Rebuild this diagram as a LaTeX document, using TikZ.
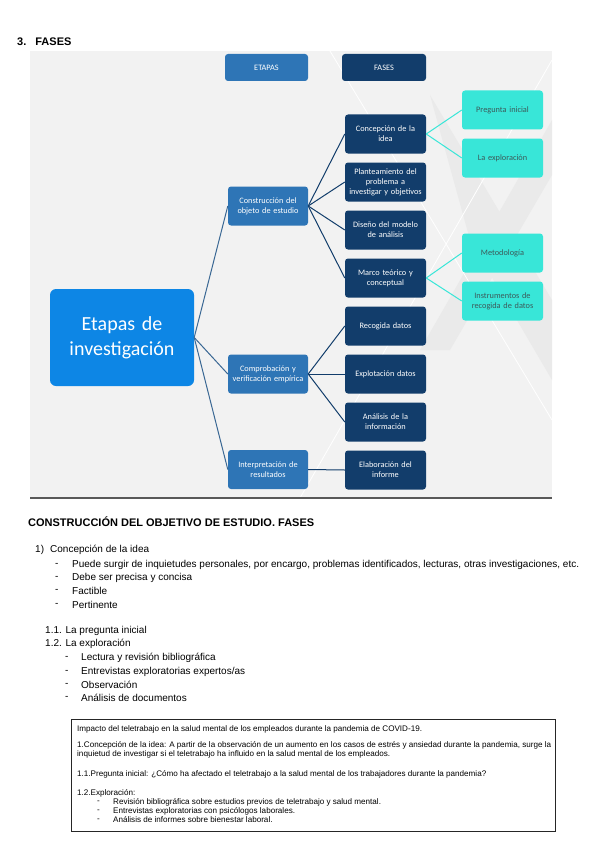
\documentclass[tikz,border=0pt]{standalone}
\usepackage{fontspec}
\setmainfont{Liberation Sans}
\newfontfamily\boxfont{Carlito}
\definecolor{panelcol}{HTML}{F2F2F2}
\definecolor{bandacol}{HTML}{EAEAEA}
\definecolor{etapacol}{HTML}{2E75B6}
\definecolor{fasecol}{HTML}{123D6B}
\definecolor{centralcol}{HTML}{0D86E5}
\definecolor{pistacol}{HTML}{38E6D8}
\definecolor{pistatxt}{HTML}{3C5A5A}
\definecolor{troncocol}{HTML}{3A6894}
\begin{document}
\begin{tikzpicture}[
    x=1pt, y=-1pt,
    node distance=48pt,
    caja/.style={rectangle, rounded corners=3pt, minimum width=81pt, minimum height=39pt, text width=78pt, align=center, inner sep=1pt, text=white, font=\boxfont\fontsize{8.3}{10}\selectfont},
    fase/.style={caja, fill=fasecol},
    etapa/.style={caja, fill=etapacol, minimum width=80pt},
    pista/.style={caja, fill=pistacol, text=pistatxt},
    cabecera/.style={caja, minimum height=27pt},
    tronco/.style={draw=troncocol, line width=1pt},
    rama/.style={draw=fasecol, line width=1pt},
    hoja/.style={draw=pistacol, line width=1pt},
    txt/.style={anchor=west, inner sep=0pt, font=\fontsize{10}{11}\selectfont},
    negrita/.style={txt, font=\bfseries\fontsize{11}{12}\selectfont},
    chico/.style={anchor=west, inner sep=0pt, font=\fontsize{8.1}{9}\selectfont}
]
\useasboundingbox (0,0) rectangle (600,848);
\fill[white] (0,0) rectangle (600,848);

% titulo
\node[negrita] (titulo) at (17,42) {3.\hspace{9pt}FASES};

% fondo del esquema
\fill[panelcol] (30,51) rectangle (552,498);
\fill[bandacol] (430,95) -- (552,300) -- (552,380) -- (470,240) -- cycle;
\fill[bandacol] (552,120) -- (552,175) -- (450,350) -- (420,350) -- cycle;
\draw[white, line width=0.8pt] (330,51) -- (552,420);
\draw[white, line width=0.8pt] (552,60) -- (300,498);
\draw[gray!70!black, line width=1.6pt] (30,498) -- (552,498);

% cabeceras
\node[cabecera, fill=etapacol, minimum width=83pt] (etapas) at (266.5,67.5) {ETAPAS};
\node[cabecera, fill=fasecol, minimum width=84pt] (fases) at (384,67.5) {FASES};

% nodo central
\node[caja, fill=centralcol, minimum width=144pt, minimum height=97pt, text width=140pt, rounded corners=6pt, font=\boxfont\fontsize{20}{25}\selectfont] (central) at (122,337.5) {Etapas de\\investigación};

% etapas
\node[etapa] (construccion) at (268,206) {Construcción del\\objeto de estudio};
\node[etapa] (comprobacion) at (268,374) {Comprobación y\\verificación empírica};
\node[etapa] (interpretacion) at (268,469.5) {Interpretación de\\resultados};

% fases
\node[fase] (concepcion) at (385.5,134) {Concepción de la\\idea};
\node[fase, below of=concepcion] (planteamiento) {Planteamiento del\\problema a\\investigar y objetivos};
\node[fase, below of=planteamiento] (diseno) {Diseño del modelo\\de análisis};
\node[fase, below of=diseno] (marco) {Marco teórico y\\conceptual};
\node[fase, below of=marco] (recogida) {Recogida datos};
\node[fase, below of=recogida] (explotacion) {Explotación datos};
\node[fase, below of=explotacion] (analisis) {Análisis de la\\información};
\node[fase, below of=analisis] (elaboracion) {Elaboración del\\informe};

% pasos
\node[pista] (pregunta) at (502.5,110) {Pregunta inicial};
\node[pista, below of=pregunta] (exploracion) {La exploración};
\node[pista] (metodologia) at (502.5,253) {Metodología};
\node[pista, below of=metodologia] (instrumentos) {Instrumentos de\\recogida de datos};

% conexiones
\foreach \n in {construccion, comprobacion, interpretacion}
    \draw[tronco] (central.east) -- (\n.west);
\foreach \n in {concepcion, planteamiento, diseno, marco}
    \draw[rama] (construccion.east) -- (\n.west);
\foreach \n in {recogida, explotacion, analisis}
    \draw[rama] (comprobacion.east) -- (\n.west);
\draw[rama] (interpretacion.east) -- (elaboracion.west);
\foreach \n in {pregunta, exploracion}
    \draw[hoja] (concepcion.east) -- (\n.west);
\foreach \n in {metodologia, instrumentos}
    \draw[hoja] (marco.east) -- (\n.west);

% texto
\node[negrita] (seccion) at (28,522) {CONSTRUCCIÓN DEL OBJETIVO DE ESTUDIO. FASES};
\node[txt] (num1) at (35,550) {1)};
\node[txt] (idea) at (50,550) {Concepción de la idea};
\foreach \i/\yy/\t in {1/565/{Puede surgir de inquietudes personales, por encargo, problemas identificados, lecturas, otras investigaciones, etc.},
    2/578/{Debe ser precisa y concisa}, 3/591/{Factible}, 4/605/{Pertinente}} {
    \node[txt] (guion\i) at (55,\yy) {-};
    \node[txt] (punto\i) at (72,\yy) {\t};
}
\node[txt] (sub1) at (45,631) {1.1. La pregunta inicial};
\node[txt] (sub2) at (45,644) {1.2. La exploración};
\foreach \i/\yy/\t in {1/658/{Lectura y revisión bibliográfica}, 2/672/{Entrevistas exploratorias expertos/as},
    3/685/{Observación}, 4/698/{Análisis de documentos}} {
    \node[txt] (guionb\i) at (65,\yy) {-};
    \node[txt] (via\i) at (81,\yy) {\t};
}

% ejemplo
\node[draw=black!85, line width=1pt, minimum width=484pt, minimum height=112pt, anchor=north west, inner sep=0pt] (caso) at (71,719) {};
\node[chico] (tema) at (77,729) {Impacto del teletrabajo en la salud mental de los empleados durante la pandemia de COVID-19.};
\node[chico] (linea1) at (77,745.5) {1.Concepción de la idea: A partir de la observación de un aumento en los casos de estrés y ansiedad durante la pandemia, surge la};
\node[chico] (linea2) at (77,754.5) {inquietud de investigar si el teletrabajo ha influido en la salud mental de los empleados.};
\node[chico] (linea3) at (77,774) {1.1.Pregunta inicial: ¿Cómo ha afectado el teletrabajo a la salud mental de los trabajadores durante la pandemia?};
\node[chico] (linea4) at (77,793) {1.2.Exploración:};
\foreach \i/\yy/\t in {1/802/{Revisión bibliográfica sobre estudios previos de teletrabajo y salud mental.},
    2/811/{Entrevistas exploratorias con psicólogos laborales.}, 3/820/{Análisis de informes sobre bienestar laboral.}} {
    \node[chico] (guionc\i) at (97,\yy) {-};
    \node[chico] (item\i) at (113,\yy) {\t};
}
\end{tikzpicture}
\end{document}
